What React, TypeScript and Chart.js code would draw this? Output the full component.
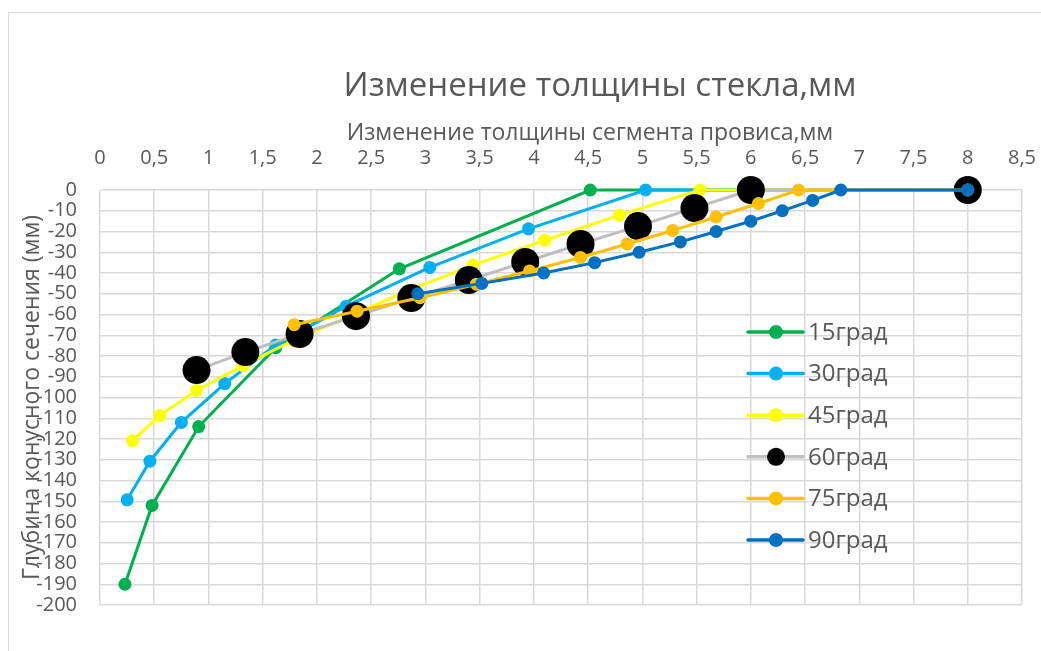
import { useEffect, useRef } from "react";
import { Chart, registerables } from "chart.js";
Chart.register(...registerables);

const titleText = "Изменение толщины стекла,мм";
const xTitle = "Изменение толщины сегмента провиса,мм";
const yTitle = "Глубина конусного сечения (мм)";

const seriesNames = ["15град", "30град", "45град", "60град", "75град", "90град"];
const lineColors = ["#00B050", "#00B0F0", "#FFFF00", "#BFBFBF", "#FFC000", "#0070C0"];
const markerColors = ["#00B050", "#00B0F0", "#FFFF00", "#000000", "#FFC000", "#0070C0"];
const markerRadius = [6.5, 6.5, 6.5, 14, 6.5, 6.5];

// x = change of segment thickness, y = depth
const x15 = [8, 4.52, 2.76, 1.62, 0.91, 0.48, 0.23];
const y15 = [0, 0, -38, -76, -114, -152, -190];

const x30 = [8, 5.03, 3.95, 3.04, 2.27, 1.62, 1.15, 0.75, 0.46, 0.25];
const y30 = [0, 0, -18.7, -37.3, -56, -74.7, -93.3, -112, -130.7, -149.3];

const x45 = [8, 5.53, 4.79, 4.1, 3.44, 2.85, 2.32, 1.78, 1.32, 0.89, 0.55, 0.3];
const y45 = [0, 0, -12.1, -24.2, -36.2, -48.3, -60.4, -72.5, -84.6, -96.6, -108.7, -120.8];

const x60 = [8, 6.0, 5.48, 4.96, 4.43, 3.92, 3.4, 2.87, 2.36, 1.84, 1.34, 0.89];
const y60 = [0, 0, -8.7, -17.4, -26, -34.7, -43.4, -52.1, -60.8, -69.4, -78.1, -86.8];

const x75 = [8, 6.44, 6.07, 5.68, 5.28, 4.86, 4.43, 3.96, 3.47, 2.95, 2.37, 1.79];
const y75 = [0, 0, -6.5, -13, -19.5, -26, -32.5, -39, -45.4, -51.9, -58.4, -64.9];

const x90 = [8, 6.83, 6.57, 6.29, 6.0, 5.68, 5.35, 4.97, 4.56, 4.09, 3.52, 2.93];
const y90 = [0, 0, -5, -10, -15, -20, -25, -30, -35, -40, -45, -50];

const xs = [x15, x30, x45, x60, x75, x90];
const ys = [y15, y30, y45, y60, y75, y90];

const xMin = 0, xMax = 8.5, xStep = 0.5;
const yMin = -200, yMax = 0, yStep = 10;

const FONT = "'Open Sans', 'DejaVu Sans', sans-serif";
const TEXT = "#595959";

const decorPlugin = {
  id: "decor",
  beforeDraw(chart: any) {
    const ctx = chart.ctx;
    ctx.save();
    ctx.fillStyle = "#ffffff";
    ctx.fillRect(0, 0, chart.width, chart.height);
    ctx.strokeStyle = "#D9D9D9";
    ctx.lineWidth = 1;
    ctx.beginPath();
    ctx.moveTo(8.5, chart.height);
    ctx.lineTo(8.5, 12.5);
    ctx.lineTo(chart.width, 12.5);
    ctx.stroke();
    ctx.restore();
  },
  afterDraw(chart: any) {
    const ctx = chart.ctx;
    const a = chart.chartArea;
    ctx.save();
    ctx.fillStyle = TEXT;
    ctx.textAlign = "center";
    ctx.textBaseline = "middle";
    ctx.font = `33px ${FONT}`;
    ctx.fillText(titleText, 600, 87);
    ctx.font = `23px ${FONT}`;
    ctx.fillText(xTitle, 590, 133);
    ctx.save();
    ctx.translate(32, (a.top + a.bottom) / 2);
    ctx.rotate(-Math.PI / 2);
    ctx.fillText(yTitle, 0, 0);
    ctx.restore();

    // legend
    const lx0 = 748, lx1 = 803, mx = 776, tx = 808, ly0 = 332, dy = 41.6;
    ctx.font = `24px ${FONT}`;
    ctx.textAlign = "left";
    seriesNames.forEach((name, i) => {
      const y = ly0 + i * dy;
      ctx.strokeStyle = lineColors[i];
      ctx.lineWidth = 3.5;
      ctx.lineCap = "round";
      ctx.beginPath();
      ctx.moveTo(lx0, y);
      ctx.lineTo(lx1, y);
      ctx.stroke();
      ctx.fillStyle = markerColors[i];
      ctx.beginPath();
      ctx.arc(mx, y, i === 3 ? 9 : 7, 0, Math.PI * 2);
      ctx.fill();
      ctx.fillStyle = TEXT;
      ctx.fillText(name, tx, y + 1);
    });
    ctx.restore();
  },
};

export default function App() {
  const ref = useRef<HTMLCanvasElement>(null);
  useEffect(() => {
    if (!ref.current) return;
    const datasets = seriesNames.map((name, i) => ({
      label: name,
      data: xs[i].map((x, j) => ({ x, y: ys[i][j] })),
      showLine: true,
      clip: false as any,
      borderColor: lineColors[i],
      backgroundColor: markerColors[i],
      pointBackgroundColor: markerColors[i],
      pointBorderColor: markerColors[i],
      pointBorderWidth: 0,
      pointRadius: markerRadius[i],
      borderWidth: 3,
      tension: 0,
      order: seriesNames.length - i,
    }));
    const chart = new Chart(ref.current, {
      type: "scatter",
      data: { datasets },
      plugins: [decorPlugin],
      options: {
        animation: false,
        responsive: false,
        layout: { padding: { left: 0, top: 0, right: 19, bottom: 46 } },
        plugins: { legend: { display: false }, tooltip: { enabled: false }, title: { display: false } },
        scales: {
          x: {
            type: "linear",
            position: "top",
            min: xMin,
            max: xMax,
            afterFit: (s: any) => { s.height = 190; s.paddingRight = 0; s.paddingLeft = 0; },
            grid: { color: "#D9D9D9", lineWidth: 1.5, drawTicks: true, tickLength: 18, tickColor: "rgba(0,0,0,0)" },
            border: { display: false },
            ticks: {
              stepSize: xStep,
              padding: 2,
              color: TEXT,
              font: { family: FONT, size: 20 },
              autoSkip: false,
              maxRotation: 0,
              callback: (v: any) => String(v).replace(".", ","),
            },
          },
          y: {
            type: "linear",
            min: yMin,
            max: yMax,
            afterFit: (s: any) => { s.width = 100; },
            grid: { color: "#D9D9D9", lineWidth: 1.5, drawTicks: false },
            border: { display: false },
            ticks: {
              stepSize: yStep,
              padding: 23,
              color: TEXT,
              font: { family: FONT, size: 20 },
              autoSkip: false,
              callback: (v: any) => String(v),
            },
          },
        },
      },
    });
    return () => chart.destroy();
  }, []);
  return (
    <div style={{ position: "absolute", left: 0, top: 0, width: 1041, height: 651, background: "#fff" }}>
      <canvas ref={ref} width={1041} height={651} style={{ display: "block" }} />
    </div>
  );
}
